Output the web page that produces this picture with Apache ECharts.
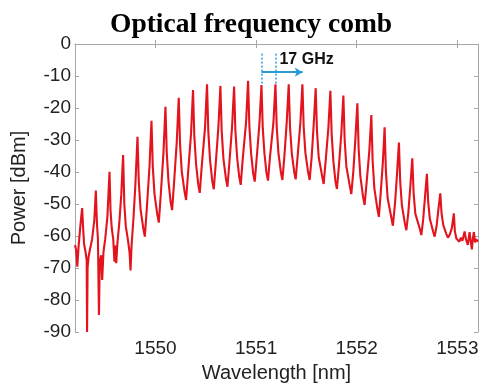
<!DOCTYPE html>
<html>
<head>
<meta charset="utf-8">
<script src="https://cdn.jsdelivr.net/npm/echarts@6/dist/echarts.min.js"></script>
<style>
html,body{margin:0;padding:0;background:#fff;}
#chart{width:481px;height:384px;}
</style>
</head>
<body>
<div id="chart"></div>
<script>
// Spectrum trace
var wavelengthNm = [
1549.200,1549.212,1549.223,1549.235,1549.250,1549.262,1549.271,1549.280,1549.290,1549.305,
1549.316,1549.320,1549.325,1549.335,1549.350,1549.370,1549.392,1549.407,1549.418,1549.428,
1549.438,1549.446,1549.460,1549.470,1549.483,1549.500,1549.522,1549.543,1549.553,1549.565,
1549.580,1549.592,1549.600,1549.610,1549.622,1549.640,1549.660,1549.678,1549.690,1549.705,
1549.725,1549.742,1549.752,1549.762,1549.780,1549.800,1549.821,
1549.834,1549.851,1549.879,1549.894,1549.914,1549.940,1549.960,
1549.973,1549.990,1550.018,1550.033,1550.053,1550.079,1550.099,
1550.112,1550.129,1550.150,1550.165,1550.185,1550.211,1550.231,
1550.244,1550.261,1550.289,1550.304,1550.324,1550.353,1550.373,
1550.386,1550.403,1550.425,1550.440,1550.460,1550.492,1550.512,
1550.525,1550.542,1550.564,1550.579,1550.599,1550.625,1550.645,
1550.658,1550.675,1550.700,1550.715,1550.735,1550.761,1550.781,
1550.794,1550.811,1550.832,1550.847,1550.867,1550.900,1550.920,
1550.933,1550.950,1550.971,1550.986,1551.006,1551.033,1551.053,
1551.066,1551.083,1551.103,1551.118,1551.138,1551.172,1551.192,
1551.205,1551.222,1551.246,1551.261,1551.281,1551.304,1551.324,
1551.337,1551.354,1551.378,1551.393,1551.413,1551.440,1551.460,
1551.473,1551.490,1551.517,1551.532,1551.552,1551.572,1551.592,
1551.605,1551.622,1551.656,1551.671,1551.691,1551.718,1551.738,
1551.751,1551.768,1551.788,1551.803,1551.823,1551.847,1551.867,
1551.880,1551.897,1551.931,1551.946,1551.966,1551.986,1552.006,
1552.019,1552.036,1552.063,1552.078,1552.098,1552.125,1552.145,
1552.158,1552.175,1552.205,1552.220,1552.237,1552.259,1552.277,
1552.290,1552.307,1552.344,1552.359,1552.379,1552.399,1552.419,
1552.432,1552.449,1552.478,1552.493,1552.513,1552.532,1552.552,
1552.565,1552.582,1552.627,1552.642,1552.660,1552.677,1552.697,
1552.710,1552.727,1552.759,1552.774,1552.794,1552.810,1552.830,
1552.843,1552.860,1552.891,1552.906,1552.926,1552.945,1552.965,
1552.975,1552.990,1553.005,1553.020,1553.035,1553.050,1553.062,1553.072,1553.085,1553.104,
1553.121,1553.132,1553.144,1553.155,1553.164,1553.176,1553.188,1553.204
];
var powerDbm = [
-62.8,-64.5,-69.6,-63.5,-58,-54,-51.3,-57,-62.5,-65,
-67.5,-90,-70,-66.5,-64,-61,-55,-45.8,-56,-61,
-84.7,-68,-66,-73.7,-65,-61,-54,-39.9,-52,-57.5,
-61,-68,-63,-68.5,-62,-56,-47,-34.7,-50,-57,
-61,-65,-70.8,-63,-55,-44,-29,
-43.0,-51.5,-57.7,-60.2,-51.2,-38.5,-24,
-38.3,-46.9,-53.3,-55.8,-46.8,-34.1,-19.6,
-34.1,-42.9,-49.3,-51.9,-43.1,-30.8,-16.8,
-31.2,-39.8,-46.2,-48.75,-40.2,-28.1,-14.4,
-28.8,-37.5,-43.9,-46.5,-38.0,-26.2,-12.6,
-27.4,-36.2,-42.8,-45.4,-37.3,-26.0,-13.1,
-27.3,-35.8,-42.1,-44.6,-36.8,-25.8,-13.3,
-27.1,-35.4,-41.5,-44,-35.9,-24.5,-11.5,
-25.7,-34.2,-40.5,-43,-35.5,-24.9,-12.8,
-26.3,-34.3,-40.3,-42.7,-35.2,-24.6,-12.6,
-26.1,-34.1,-40.1,-42.5,-35.0,-24.5,-12.6,
-26.0,-34.0,-39.9,-42.3,-34.9,-24.5,-12.6,
-26.1,-34.1,-40.1,-42.5,-35.3,-25.3,-13.8,
-27.3,-35.4,-41.3,-43.75,-36.5,-26.2,-14.6,
-28.4,-36.7,-42.8,-45.3,-38.0,-27.8,-16.1,
-30.0,-38.3,-44.4,-46.9,-39.8,-29.9,-18.5,
-32.8,-41.4,-47.8,-50.3,-43.3,-33.4,-22.2,
-36.5,-45.1,-51.5,-54,-47.0,-37.2,-26,
-39.9,-48.2,-54.3,-56.8,-50.3,-41.2,-30.8,
-43.1,-50.5,-56.0,-58.2,-52.6,-44.7,-35.7,
-46.5,-53.0,-57.8,-59.7,-54.9,-48.3,-40.6,
-49.4,-54.7,-58.6,-60.2,-56.8,-52.1,-46.7,
-52.9,-56.6,-59.4,-60.5,-59.5,-57.5,-52.9,
-58.5,-60.8,-60.2,-61.8,-60.5,-61.5,-61.9,-58.6,-61,-62.8,
-58.8,-61.5,-64.2,-60.5,-58.75,-62,-61,-61.8
];

// Axis tick values
var xTickValues = [1550, 1551, 1552, 1553];
var yTickValues = [0, -10, -20, -30, -40, -50, -60, -70, -80, -90];

// 17 GHz spacing annotation (data coordinates)
var markerWavelengths = [1551.053, 1551.192];
var markerTopDbm = -3;
var markerBottomDbm = -13;
var arrowDbm = -8.8;
var arrowEndNm = 1551.463;
var annotationText = '17 GHz';
var annotationPos = [1551.232, -5];

var xMin = 1549.2, xMax = 1553.205;
var yMin = -90, yMax = 0, yStep = 10;

var trace = wavelengthNm.map(function (w, i) { return [w, powerDbm[i]]; });

var blue = '#2b9ad6';
var frame = '#a6a6a6';
var textCol = '#222';

var markLines = markerWavelengths.map(function (w) {
  return [{coord: [w, markerTopDbm], symbol: 'none', lineStyle: {type: [2, 2], width: 1.5, color: blue}},
          {coord: [w, markerBottomDbm], symbol: 'none'}];
});
markLines.push([{coord: [markerWavelengths[0], arrowDbm], symbol: 'none', lineStyle: {type: 'solid', width: 1.8, color: blue}},
                {coord: [arrowEndNm, arrowDbm], symbol: 'arrow', symbolSize: [7, 8]}]);

function plainNum(v) { return String(v); }

var chart = echarts.init(document.getElementById('chart'), null, {renderer: 'canvas'});
chart.setOption({
  animation: false,
  backgroundColor: '#fff',
  title: {
    text: 'Optical frequency comb',
    left: 105, top: 6,
    textStyle: {fontFamily: 'Liberation Serif', fontWeight: 'bold', fontSize: 27.5, color: '#000'}
  },
  grid: {left: 75, right: 3, top: 44, bottom: 52, containLabel: false, outerBoundsMode: 'none'},
  xAxis: [{
    type: 'value', min: xMin, max: xMax, position: 'bottom',
    axisLine: {show: true, lineStyle: {color: frame, width: 1}},
    axisTick: {show: true, inside: true, length: 4, lineStyle: {color: frame}, customValues: xTickValues},
    axisLabel: {customValues: xTickValues, formatter: plainNum, fontFamily: 'Liberation Sans', fontSize: 19, color: textCol, margin: 7},
    splitLine: {show: false},
    name: 'Wavelength [nm]', nameLocation: 'middle', nameGap: 31,
    nameTextStyle: {fontFamily: 'Liberation Sans', fontSize: 20, color: textCol}
  }, {
    type: 'value', min: xMin, max: xMax, position: 'top',
    axisLine: {show: true, lineStyle: {color: frame, width: 1}},
    axisTick: {show: true, inside: true, length: 4, lineStyle: {color: frame}, customValues: xTickValues},
    axisLabel: {show: false}, splitLine: {show: false}
  }],
  yAxis: [{
    type: 'value', min: yMin, max: yMax, interval: yStep, position: 'left',
    axisLine: {show: true, lineStyle: {color: frame, width: 1}},
    axisTick: {show: true, inside: true, length: 4, lineStyle: {color: frame}, customValues: yTickValues},
    axisLabel: {customValues: yTickValues, formatter: plainNum, fontFamily: 'Liberation Sans', fontSize: 19, color: textCol, margin: 4},
    splitLine: {show: false},
    name: 'Power [dBm]', nameLocation: 'middle', nameGap: 46, nameRotate: 90,
    nameTextStyle: {fontFamily: 'Liberation Sans', fontSize: 20, color: textCol}
  }, {
    type: 'value', min: yMin, max: yMax, interval: yStep, position: 'right',
    axisLine: {show: true, lineStyle: {color: frame, width: 1}},
    axisTick: {show: true, inside: true, length: 4, lineStyle: {color: frame}, customValues: yTickValues},
    axisLabel: {show: false}, splitLine: {show: false}
  }],
  series: [{
    type: 'line', xAxisIndex: 0, yAxisIndex: 0,
    data: trace, showSymbol: false, symbol: 'none', smooth: false,
    lineStyle: {color: '#e3141e', width: 2.1},
    clip: true, z: 2
  }, {
    type: 'scatter', xAxisIndex: 0, yAxisIndex: 0,
    data: [annotationPos], symbolSize: 0, silent: true, z: 5,
    itemStyle: {opacity: 1},
    label: {show: true, position: 'right', distance: 0, formatter: annotationText,
      fontFamily: 'Liberation Sans', fontWeight: 'bold', fontSize: 16, color: '#111', opacity: 1},
    markLine: {silent: true, symbol: 'none', label: {show: false}, animation: false, data: markLines}
  }]
});
</script>
</body>
</html>
